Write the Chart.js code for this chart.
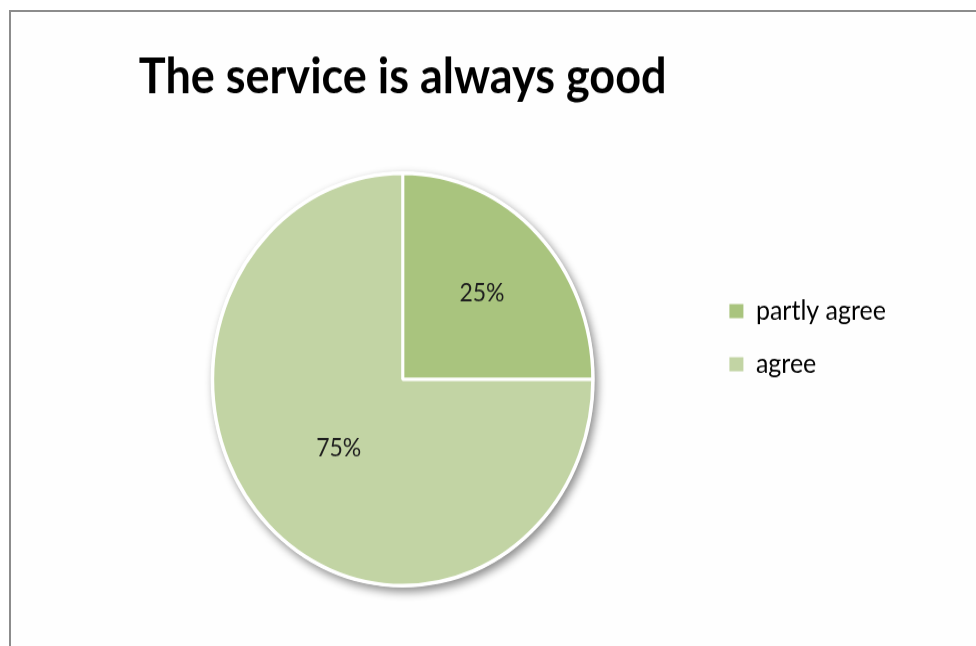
<!DOCTYPE html>
<html>
<head>
<meta charset="utf-8">
<script src="https://cdn.jsdelivr.net/npm/chart.js@4.4.1/dist/chart.umd.min.js"></script>
<style>
	html, body {
		margin: 0;
		padding: 0;
		background: #ffffff;
		overflow: hidden;
	}
	.chart-frame {
		position: absolute;
		left: 9px;
		top: 10px;
		width: 1000px;
		height: 700px;
		border: 2px solid #8c8c8c;
		background: #fefefe;
	}
	.chart-wrap {
		position: absolute;
		left: 0;
		top: 0;
		width: 976px;
		height: 596px;
		transform: scaleY(1.084);
		transform-origin: 0 0;
	}
</style>
</head>
<body>
<div class="chart-frame"></div>
<div class="chart-wrap">
	<canvas id="service-chart" width="976" height="596"></canvas>
</div>
<script>
const answerLabels = ['partly agree', 'agree'];
const answerShares = [25, 75];
const answerColors = ['#a9c47e', '#c2d4a4'];

const ctx = document.getElementById('service-chart').getContext('2d');

// soft shadow + white rim behind the pie
const pieShadow = {
	id: 'pieShadow',
	beforeDatasetsDraw(chart) {
		const arc = chart.getDatasetMeta(0).data[0];
		if (!arc) return;
		const c = chart.ctx;
		c.save();
		c.shadowColor = 'rgba(0, 0, 0, 0.45)';
		c.shadowBlur = 9;
		c.shadowOffsetX = 3;
		c.shadowOffsetY = 4;
		c.fillStyle = '#ffffff';
		c.beginPath();
		c.arc(arc.x, arc.y, arc.outerRadius + 2, 0, Math.PI * 2);
		c.fill();
		c.restore();
	}
};

// percent labels inside the slices
const labelRadius = [0.59, 0.476];
const sliceLabels = {
	id: 'sliceLabels',
	afterDatasetsDraw(chart) {
		const c = chart.ctx;
		const values = chart.data.datasets[0].data;
		c.save();
		c.font = '23px Lato';
		c.fillStyle = '#1e1e1e';
		c.textAlign = 'center';
		c.textBaseline = 'middle';
		chart.getDatasetMeta(0).data.forEach((arc, idx) => {
			const mid = (arc.startAngle + arc.endAngle) / 2;
			const r = arc.outerRadius * labelRadius[idx];
			c.fillText(values[idx] + '%', arc.x + Math.cos(mid) * r, arc.y + Math.sin(mid) * r);
		});
		c.restore();
	}
};

const myPieChart = new Chart(ctx, {
	type: 'pie',
	data: {
		labels: answerLabels,
		datasets: [{
			data: answerShares,
			backgroundColor: answerColors,
			borderColor: '#ffffff',
			borderWidth: 3,
			radius: 190,
		}],
	},
	options: {
		responsive: false,
		animation: false,
		events: [],
		layout: {
			padding: { left: 100, right: 80, top: 27, bottom: 0 },
		},
		plugins: {
			title: {
				display: true,
				text: 'The service is always good',
				fullSize: false,
				color: '#000000',
				font: { family: 'Lato', size: 45, weight: 'bold' },
				padding: { top: 17, bottom: 6 },
			},
			legend: {
				position: 'right',
				labels: {
					boxWidth: 14,
					boxHeight: 13,
					padding: 24,
					color: '#2a2a2a',
					font: { family: 'Lato', size: 25 },
					generateLabels: () => answerLabels.map((text, idx) => ({
						text: text,
						fillStyle: answerColors[idx],
						strokeStyle: answerColors[idx],
						lineWidth: 0,
						hidden: false,
						index: idx,
					})),
				},
			},
			tooltip: { enabled: false },
		},
	},
	plugins: [pieShadow, sliceLabels],
});
</script>
</body>
</html>
